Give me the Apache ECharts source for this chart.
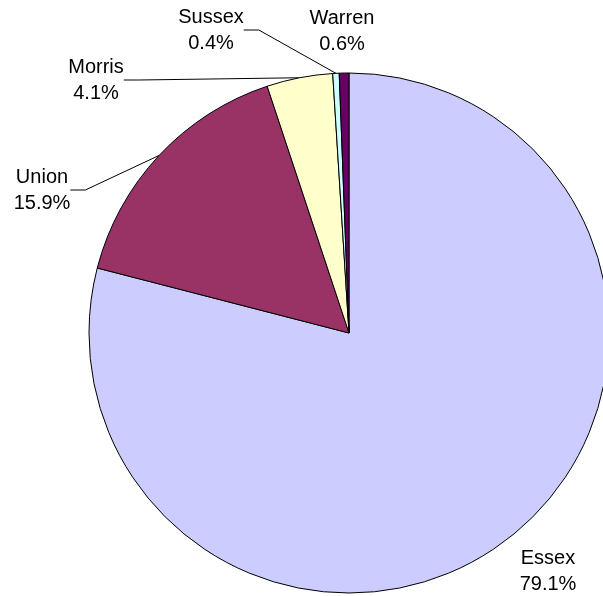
<!DOCTYPE html>
<html>
<head>
<meta charset="utf-8">
<script src="https://cdn.jsdelivr.net/npm/echarts@6/dist/echarts.min.js"></script>
<style>
  html, body { margin: 0; padding: 0; background: #fff; }
  #chart { width: 603px; height: 596px; }
</style>
</head>
<body>
<div id="chart"></div>
<script>
const counties = ['Essex', 'Union', 'Morris', 'Sussex', 'Warren']
const shares = [79.1, 15.9, 4.1, 0.4, 0.6]
const colors = ['#ccccff', '#993366', '#ffffcc', '#ccffff', '#660066']
// label centres, picked by eye
const labelSpots = [[548, 571], [42, 190], [96, 80], [211, 30], [342, 31]]
const showLine = [false, true, true, true, false]

const chart = echarts.init(document.getElementById('chart'))
chart.setOption({
  animation: false,
  series: [{
    type: 'pie',
    center: [349, 333],
    radius: 260,
    startAngle: 90,
    clockwise: true,
    avoidLabelOverlap: false,
    itemStyle: { borderColor: '#000', borderWidth: 1 },
    label: {
      show: true,
      fontFamily: 'Liberation Sans, Arial, sans-serif',
      fontSize: 20,
      lineHeight: 26,
      color: '#000',
      align: 'center',
      formatter: p => p.name + '\n' + p.value.toFixed(1) + '%'
    },
    labelLine: {
      show: true,
      length: 15,
      length2: 15,
      smooth: false,
      lineStyle: { color: '#000', width: 1 }
    },
    labelLayout: p => {
      const s = labelSpots[p.dataIndex]
      return { x: s[0], y: s[1], align: 'center', verticalAlign: 'middle' }
    },
    emphasis: { disabled: true },
    data: counties.map((name, i) => ({
      name,
      value: shares[i],
      itemStyle: { color: colors[i] },
      labelLine: { show: showLine[i] }
    }))
  }]
})
</script>
</body>
</html>
